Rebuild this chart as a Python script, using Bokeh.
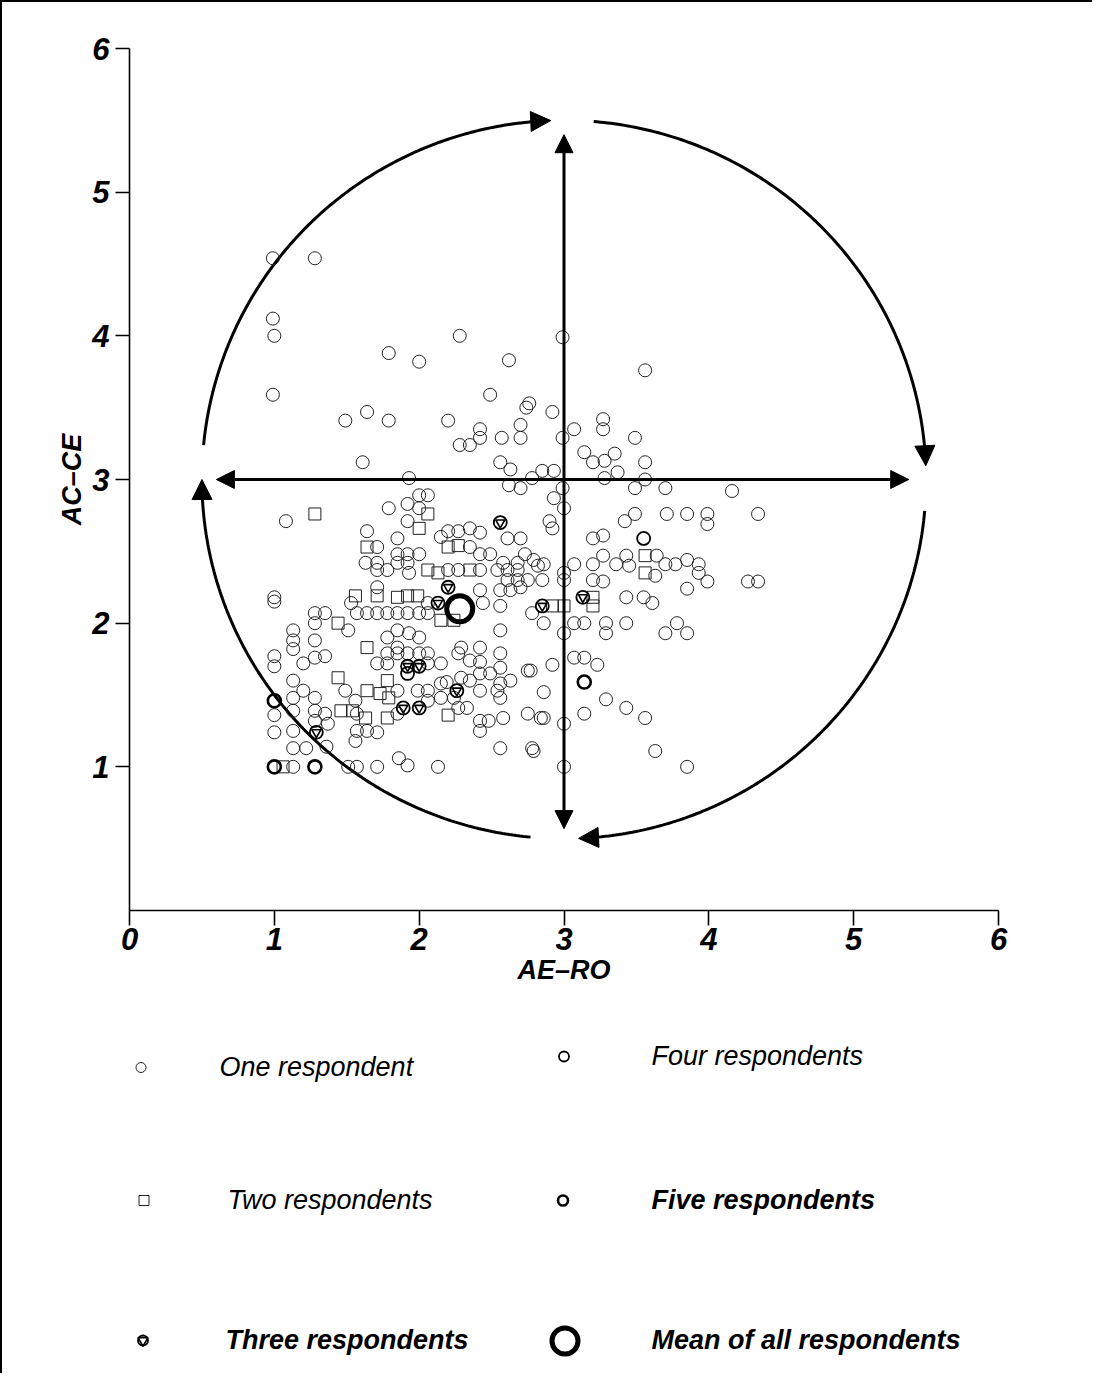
from bokeh.plotting import figure
from bokeh.layouts import column
from bokeh.models import Arrow, NormalHead, Legend, LegendItem, FixedTicker
from bokeh.embed import file_html
from bokeh.resources import INLINE
import numpy as np

# ---- data (AE-RO, AC-CE) ----
one_respondent = [
    (0.99, 4.54), (1.28, 4.54), (0.99, 4.12), (1.00, 4.00), (2.28, 4.00), (1.79, 3.88),
    (2.00, 3.82), (2.62, 3.83), (2.99, 3.99), (0.99, 3.59), (2.49, 3.59), (2.76, 3.53),
    (2.74, 3.50), (2.92, 3.47), (1.49, 3.41), (1.64, 3.47), (1.79, 3.41), (2.20, 3.41),
    (2.42, 3.35), (2.42, 3.29), (2.28, 3.24), (2.35, 3.24), (2.57, 3.29), (2.70, 3.38),
    (2.70, 3.29), (2.99, 3.29), (3.07, 3.35), (3.14, 3.19), (3.20, 3.12), (1.61, 3.12),
    (2.56, 3.12), (2.63, 3.07), (2.85, 3.06), (2.93, 3.06), (1.93, 3.01), (2.78, 3.01),
    (2.62, 2.96), (2.70, 2.94), (2.99, 2.94),
    (3.56, 3.76), (3.27, 3.42), (3.27, 3.35), (3.49, 3.29), (3.35, 3.18), (3.28, 3.13),
    (3.37, 3.05), (3.56, 3.12), (3.28, 3.01), (3.56, 3.00), (3.49, 2.94), (3.70, 2.94),
    (4.16, 2.92), (3.49, 2.76), (3.42, 2.71), (3.71, 2.76), (3.85, 2.76), (3.99, 2.76),
    (3.99, 2.69), (4.34, 2.76), (3.27, 2.61),
    (2.00, 2.89), (2.06, 2.89), (1.79, 2.80), (1.92, 2.83), (2.00, 2.80), (1.08, 2.71),
    (1.92, 2.71), (1.64, 2.64), (2.15, 2.60), (2.20, 2.64), (2.27, 2.64), (2.35, 2.66),
    (2.42, 2.63), (2.61, 2.59), (2.70, 2.59), (1.71, 2.53), (1.85, 2.59), (1.85, 2.48),
    (1.92, 2.48), (2.00, 2.48), (2.35, 2.53), (2.42, 2.48), (2.49, 2.48), (2.58, 2.42),
    (2.68, 2.42), (2.73, 2.48), (2.79, 2.44), (2.82, 2.40), (1.63, 2.42), (1.71, 2.42),
    (1.71, 2.37), (1.78, 2.37), (1.85, 2.42), (1.92, 2.42), (1.93, 2.35), (2.20, 2.37),
    (2.27, 2.37), (2.42, 2.37), (2.54, 2.37), (2.61, 2.37), (2.68, 2.37), (2.61, 2.30),
    (2.68, 2.30), (2.75, 2.30), (2.42, 2.23), (2.56, 2.23), (2.63, 2.23), (2.70, 2.25),
    (2.44, 2.14), (2.56, 2.12), (2.78, 2.07), (1.71, 2.25), (1.53, 2.14), (1.57, 2.07),
    (1.64, 2.07), (1.71, 2.07), (1.78, 2.07), (1.85, 2.07), (1.92, 2.07), (2.00, 2.07),
    (2.06, 2.07), (2.06, 2.14), (1.00, 2.18), (1.00, 2.15), (1.28, 2.07), (1.35, 2.07),
    (1.51, 1.95), (1.28, 2.00), (1.13, 1.95), (1.13, 1.88), (1.13, 1.82), (1.00, 1.77),
    (1.00, 1.70), (1.20, 1.72), (1.28, 1.76), (1.35, 1.77), (1.28, 1.88), (1.78, 1.90),
    (1.85, 1.83), (1.78, 1.79), (1.71, 1.72), (1.78, 1.72), (1.85, 1.95), (1.93, 1.93),
    (2.00, 1.90), (2.06, 1.72), (2.15, 1.72), (1.85, 1.79), (1.92, 1.79), (2.00, 1.79),
    (2.06, 1.79), (2.27, 1.79), (2.35, 1.74), (2.42, 1.73), (2.29, 1.83), (2.42, 1.83),
    (2.56, 1.95), (2.56, 1.79), (2.75, 1.67), (2.63, 1.60), (2.56, 1.48), (2.42, 1.65),
    (2.49, 1.65), (2.42, 1.53), (2.35, 1.60), (2.19, 1.59), (2.29, 1.62), (2.27, 1.41),
    (2.33, 1.41), (2.42, 1.32), (2.48, 1.32), (2.42, 1.25), (2.15, 1.48), (2.24, 1.48),
    (2.06, 1.53), (2.06, 1.46), (1.99, 1.53), (1.85, 1.53), (1.85, 1.37), (1.56, 1.46),
    (1.57, 1.37), (1.64, 1.25), (1.71, 1.24), (1.57, 1.25), (1.56, 1.18), (1.49, 1.53),
    (1.13, 1.60), (1.13, 1.48), (1.13, 1.39), (1.20, 1.53), (1.28, 1.48), (1.28, 1.39),
    (1.28, 1.32), (1.35, 1.37), (1.37, 1.30), (1.00, 1.36), (1.00, 1.24), (1.13, 1.25),
    (1.36, 1.14), (1.13, 1.13), (1.22, 1.13), (1.13, 1.00), (1.51, 1.00), (1.57, 1.00),
    (1.71, 1.00), (1.86, 1.06), (1.92, 1.01), (2.13, 1.00), (2.54, 1.53), (2.56, 1.58),
    (2.56, 1.13), (2.78, 1.13), (2.75, 1.37), (2.84, 1.34), (2.58, 1.34), (2.15, 1.58),
    (2.56, 1.69),
    (2.92, 2.66), (3.20, 2.59), (3.07, 2.41), (3.20, 2.41), (3.27, 2.47), (3.36, 2.41),
    (3.43, 2.47), (3.45, 2.40), (3.64, 2.47), (3.63, 2.33), (3.70, 2.41), (3.77, 2.41),
    (3.85, 2.44), (3.93, 2.41), (3.93, 2.35), (3.99, 2.29), (3.85, 2.24), (4.27, 2.29),
    (4.34, 2.29), (2.86, 2.41), (2.85, 2.30), (3.00, 2.30), (3.00, 2.35), (3.20, 2.30),
    (3.27, 2.29), (3.43, 2.18), (3.55, 2.18), (3.61, 2.14), (2.86, 2.00), (3.00, 1.93),
    (3.07, 2.00), (3.14, 2.00), (3.29, 2.00), (3.29, 1.93), (3.43, 2.00), (3.70, 1.93),
    (3.78, 2.00), (3.85, 1.93), (3.07, 1.76), (3.14, 1.76), (3.23, 1.71), (2.92, 1.71),
    (2.86, 1.52), (3.29, 1.47), (2.86, 1.34), (3.00, 1.30), (3.14, 1.37), (3.43, 1.41),
    (3.56, 1.34), (2.79, 1.11), (3.63, 1.11), (3.00, 1.00), (3.85, 1.00), (2.77, 1.67),
    (2.93, 2.87), (3.00, 2.80), (2.90, 2.71),
]
two_respondents = [
    (2.06, 2.76), (1.28, 2.76), (2.00, 2.66), (1.64, 2.53), (2.20, 2.53), (2.27, 2.54),
    (2.06, 2.37), (2.13, 2.35), (2.35, 2.37), (2.15, 2.02), (2.24, 2.02), (1.56, 2.19),
    (1.71, 2.19), (1.85, 2.18), (1.92, 2.19), (1.99, 2.19), (1.44, 2.00), (1.64, 1.83),
    (1.78, 1.60), (1.79, 1.48), (1.64, 1.53), (1.73, 1.51), (1.63, 1.34), (1.78, 1.34),
    (1.46, 1.39), (1.54, 1.39), (1.44, 1.62), (2.20, 1.36), (1.06, 1.00), (2.92, 2.12),
    (3.00, 2.12), (3.20, 2.18), (3.20, 2.12), (3.56, 2.47), (3.56, 2.35),
]
three_respondents = [
    (2.56, 2.70), (2.20, 2.25), (2.13, 2.14), (2.85, 2.12), (1.92, 1.70), (2.00, 1.70),
    (2.26, 1.53), (1.89, 1.41), (2.00, 1.41), (1.29, 1.24), (3.13, 2.18),
]
four_respondents = [(3.55, 2.59), (1.92, 1.65)]
five_respondents = [(1.00, 1.46), (1.00, 1.00), (1.28, 1.00), (3.14, 1.59)]
mean_all = [(2.28, 2.10)]

legend_labels = ["One respondent", "Two respondents", "Three respondents",
                 "Four respondents", "Five respondents", "Mean of all respondents"]

x_ticks = [0, 1, 2, 3, 4, 5, 6]
y_ticks = [1, 2, 3, 4, 5, 6]

# circular cycle arrows (degrees, drawn clockwise)
cycle_center = (3.0, 3.0)
cycle_radius = 2.5
arc_start_deg = [174.5, 85.3, -5.0, -95.3]
arc_end_deg = [92.1, 2.2, -87.7, -180.0]
axis_arrow_span = (0.6, 5.38)


def xs(pts):
    return [a for a, b in pts]


def ys(pts):
    return [b for a, b in pts]


# ---------------- main plot ----------------
p = figure(width=1090, height=1000, x_range=(0, 6), y_range=(0, 6),
           output_backend="svg", toolbar_location=None,
           min_border_left=127, min_border_right=94,
           min_border_top=46, min_border_bottom=92)
p.xgrid.visible = False
p.ygrid.visible = False
p.outline_line_color = None

p.xaxis.ticker = FixedTicker(ticks=x_ticks)
p.yaxis.ticker = FixedTicker(ticks=y_ticks)
for ax in (p.xaxis[0], p.yaxis[0]):
    ax.axis_line_width = 1.6
    ax.axis_line_color = "black"
    ax.major_tick_line_width = 1.6
    ax.major_tick_line_color = "black"
    ax.major_tick_in = 0
    ax.minor_tick_line_color = None
    ax.major_label_text_font = "Liberation Sans"
    ax.major_label_text_font_style = "bold italic"
    ax.major_label_text_font_size = "31px"
    ax.major_label_text_color = "black"
    ax.axis_label_text_font = "Liberation Sans"
    ax.axis_label_text_font_style = "bold italic"
    ax.axis_label_text_font_size = "27px"
    ax.axis_label_text_color = "black"
p.xaxis.major_tick_out = 15
p.yaxis.major_tick_out = 14
p.xaxis.major_label_standoff = 2
p.yaxis.major_label_standoff = 6
p.xaxis.axis_label = "AE–RO"
p.yaxis.axis_label = "AC–CE"
p.xaxis.axis_label_standoff = 2
p.yaxis.axis_label_standoff = 2

# cycle arcs with arrow heads
cx, cy = cycle_center
for a0, a1 in zip(arc_start_deg, arc_end_deg):
    t = np.radians(np.linspace(a0, a1 + 1.5, 150))
    p.line(cx + cycle_radius * np.cos(t), cy + cycle_radius * np.sin(t),
           line_width=3, line_color="black")
    tb, te = np.radians(a1 + 1.0), np.radians(a1)
    p.add_layout(Arrow(end=NormalHead(size=20, fill_color="black", line_color="black"),
                       x_start=cx + cycle_radius * np.cos(tb), y_start=cy + cycle_radius * np.sin(tb),
                       x_end=cx + cycle_radius * np.cos(te), y_end=cy + cycle_radius * np.sin(te),
                       line_alpha=0))

# straight double arrows
lo, hi = axis_arrow_span
p.add_layout(Arrow(start=NormalHead(size=18, fill_color="black", line_color="black"),
                   end=NormalHead(size=18, fill_color="black", line_color="black"),
                   x_start=cx, y_start=lo - 0.03, x_end=cx, y_end=hi + 0.02,
                   line_width=3, line_color="black"))
p.add_layout(Arrow(start=NormalHead(size=18, fill_color="black", line_color="black"),
                   end=NormalHead(size=18, fill_color="black", line_color="black"),
                   x_start=lo, y_start=cy, x_end=hi, y_end=cy,
                   line_width=3, line_color="black"))

ink = "#222222"
styles = {
    "one": dict(marker="circle", size=13, fill_color=None, line_color=ink, line_width=1.0),
    "two": dict(marker="square", size=12, fill_color=None, line_color=ink, line_width=1.0),
    "three_a": dict(marker="circle", size=13, fill_color=None, line_color="black", line_width=1.8),
    "three_b": dict(marker="inverted_triangle", size=9, fill_color=None, line_color="black", line_width=1.6),
    "four": dict(marker="circle", size=13, fill_color=None, line_color="black", line_width=1.8),
    "five": dict(marker="circle", size=13, fill_color=None, line_color="black", line_width=2.6),
    "mean": dict(marker="circle", size=26, fill_color=None, line_color="black", line_width=5),
}
groups = {
    "one": one_respondent, "two": two_respondents, "three_a": three_respondents,
    "three_b": three_respondents, "four": four_respondents, "five": five_respondents,
    "mean": mean_all,
}
for name, pts in groups.items():
    p.scatter(xs(pts), ys(pts), **styles[name])

# ---------------- key panel (legend) ----------------
# its ranges lie outside the data, so only the legend keys show here
k = figure(width=1090, height=371, x_range=(-3, -2), y_range=(-3, -2),
           output_backend="svg", toolbar_location=None,
           x_axis_location=None, y_axis_location=None,
           min_border=0)
k.xgrid.visible = False
k.ygrid.visible = False
k.outline_line_color = None

kr = {name: k.scatter(xs(pts), ys(pts), **styles[name]) for name, pts in groups.items()}

legend_specs = [
    # label, renderers, (x, y) px from key frame's bottom-left, glyph w, glyph h, standoff, style
    (legend_labels[0], [kr["one"]], (-1.5, 290), 25, 32, 67, "italic"),
    (legend_labels[1], [kr["two"]], (1.5, 157), 25, 32, 72, "italic"),
    (legend_labels[2], [kr["three_a"], kr["three_b"]], (0.5, 17), 25, 32, 71, "bold italic"),
    (legend_labels[3], [kr["four"]], (421.5, 301), 25, 32, 76, "italic"),
    (legend_labels[4], [kr["five"]], (420.5, 157), 25, 32, 77, "bold italic"),
    (legend_labels[5], [kr["mean"]], (402.5, 0), 65, 65, 55, "bold italic"),
]
for label, rends, loc, gw, gh, so, fs in legend_specs:
    k.add_layout(Legend(items=[LegendItem(label=label, renderers=rends)], location=loc,
                        glyph_width=gw, glyph_height=gh, label_height=gh, label_standoff=so,
                        label_text_font="Liberation Sans", label_text_font_style=fs,
                        label_text_font_size="27px", label_text_color="black",
                        padding=0, margin=0, spacing=0,
                        border_line_color=None, background_fill_alpha=0), "center")

layout = column(p, k, spacing=0)
layout.styles = {"border-left": "2px solid black", "border-top": "2px solid black"}

open("out.html", "w").write(file_html(layout, INLINE))
